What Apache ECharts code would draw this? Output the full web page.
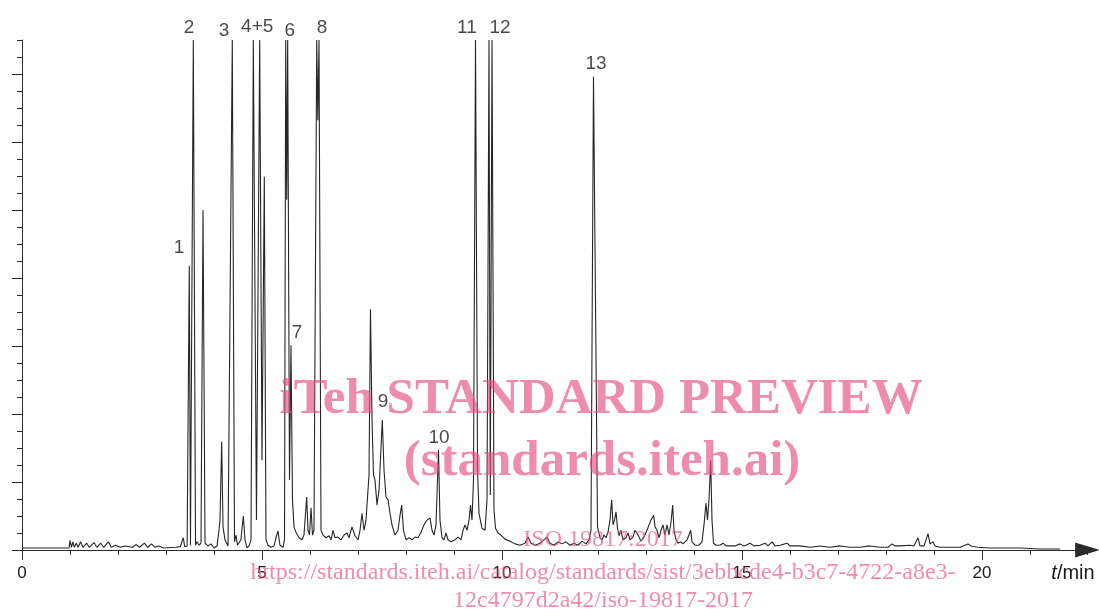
<!DOCTYPE html>
<html>
<head>
<meta charset="utf-8">
<script src="https://cdn.jsdelivr.net/npm/echarts@6/dist/echarts.min.js"></script>
<style>
html,body{margin:0;padding:0;background:#fff;}
#chart{width:1099px;height:613px;}
</style>
</head>
<body>
<div id="chart"></div>
<script>
// Retention time (min) and detector signal (arbitrary units, off-scale peaks clipped at 7.5)
const timeMin = [
0,0.98,1.0,1.03,1.06,1.09,1.13,1.17,1.22,1.27,1.35,1.40,1.50,1.56,1.64,1.70,1.80,1.86,1.95,2.05,
2.15,2.30,2.38,2.45,2.55,2.62,2.70,2.77,2.85,2.95,3.20,3.30,3.36,3.39,3.44,3.485,3.51,3.569,3.615,3.646,
3.688,3.729,3.771,3.813,3.875,3.938,4.0,4.063,4.104,4.125,4.16,4.188,4.229,4.292,4.333,4.381,4.427,4.458,4.49,4.52,
4.56,4.611,4.646,4.688,4.73,4.771,4.819,4.885,4.952,5.0,5.048,5.083,5.125,5.188,5.25,5.292,5.333,5.375,5.438,5.469,
5.494,5.515,5.535,5.573,5.604,5.635,5.667,5.708,5.771,5.833,5.875,5.931,5.958,5.99,6.021,6.052,6.083,6.14,6.163,6.188,
6.229,6.271,6.333,6.396,6.438,6.479,6.521,6.583,6.646,6.708,6.771,6.813,6.875,6.938,7.0,7.042,7.083,7.125,7.167,7.208,
7.229,7.26,7.292,7.323,7.354,7.396,7.438,7.506,7.542,7.583,7.625,7.667,7.708,7.771,7.833,7.875,7.91,7.948,8.0,8.063,
8.125,8.188,8.25,8.313,8.375,8.438,8.5,8.542,8.583,8.625,8.677,8.708,8.75,8.792,8.833,8.875,8.938,9.021,9.083,9.146,
9.188,9.229,9.271,9.313,9.344,9.375,9.406,9.448,9.49,9.521,9.583,9.646,9.688,9.729,9.756,9.792,9.833,9.865,9.917,9.979,
10.063,10.167,10.271,10.375,10.479,10.542,10.604,10.688,10.792,10.875,10.938,11.0,11.083,11.167,11.25,11.333,11.417,11.5,11.583,11.667,
11.75,11.813,11.854,11.906,11.99,12.042,12.083,12.125,12.167,12.208,12.25,12.285,12.313,12.344,12.375,12.406,12.438,12.479,12.521,12.583,
12.625,12.667,12.729,12.771,12.833,12.896,12.958,13.021,13.063,13.104,13.16,13.188,13.229,13.271,13.313,13.354,13.396,13.438,13.479,13.521,
13.556,13.583,13.625,13.667,13.729,13.771,13.854,13.896,13.931,13.958,14.021,14.104,14.167,14.208,14.25,14.281,14.313,14.348,14.375,14.406,
14.458,14.542,14.604,14.667,14.854,14.958,15.042,15.167,15.25,15.375,15.479,15.542,15.625,15.688,15.792,15.938,16.0,16.208,16.417,16.625,
16.833,17.042,17.25,17.458,17.667,17.875,18.042,18.125,18.188,18.292,18.5,18.583,18.625,18.667,18.708,18.792,18.833,18.875,18.917,18.979,
19.021,19.125,19.333,19.542,19.646,19.708,19.771,19.917,20.167,20.375,20.792,21.208,21.625
];
const signal = [
0.03,0.03,0.14,0.04,0.12,0.04,0.10,0.04,0.12,0.04,0.10,0.04,0.11,0.04,0.10,0.04,0.12,0.04,0.07,0.04,
0.06,0.04,0.08,0.04,0.10,0.04,0.09,0.04,0.06,0.03,0.04,0.05,0.18,0.05,0.06,4.18,0.07,7.5,0.07,0.12,
0.07,0.10,5.0,0.10,0.06,0.09,0.03,0.06,0.29,0.44,1.59,0.34,0.15,0.06,0.07,7.5,0.12,0.22,0.07,0.06,
0.15,0.50,0.15,0.03,0.06,0.15,7.5,0.44,7.5,1.32,5.49,0.15,0.07,0.04,0.06,0.18,0.28,0.07,0.04,0.15,
7.5,5.15,7.5,1.03,3.01,0.74,0.34,0.26,0.18,0.15,0.22,0.78,0.29,0.22,0.62,0.22,0.29,7.5,6.32,7.5,
0.29,0.22,0.18,0.21,0.15,0.29,0.18,0.19,0.15,0.22,0.25,0.18,0.34,0.21,0.15,0.29,0.54,0.29,0.44,0.88,
1.09,3.54,1.91,1.10,1.03,0.66,0.88,1.91,1.18,0.78,0.74,0.54,0.37,0.22,0.29,0.51,0.66,0.29,0.15,0.18,
0.15,0.19,0.18,0.26,0.37,0.44,0.47,0.29,0.22,0.37,1.47,0.44,0.18,0.15,0.25,0.15,0.12,0.15,0.19,0.15,
0.29,0.37,0.29,0.44,0.66,0.44,1.03,7.5,1.18,0.54,0.32,0.29,0.74,7.5,0.81,7.5,0.59,0.32,0.25,0.22,
0.16,0.13,0.09,0.07,0.10,0.19,0.10,0.07,0.10,0.15,0.19,0.10,0.07,0.12,0.09,0.12,0.07,0.10,0.07,0.13,
0.09,0.15,0.29,6.96,0.34,0.18,0.15,0.22,0.18,0.26,0.44,0.74,0.37,0.44,0.56,0.32,0.21,0.29,0.15,0.18,
0.25,0.15,0.19,0.29,0.22,0.13,0.19,0.29,0.37,0.44,0.51,0.34,0.29,0.18,0.29,0.37,0.22,0.37,0.22,0.41,
0.66,0.29,0.15,0.10,0.12,0.09,0.15,0.22,0.29,0.12,0.07,0.07,0.12,0.37,0.69,0.44,0.74,1.32,0.44,0.10,
0.07,0.07,0.10,0.06,0.06,0.09,0.06,0.10,0.06,0.07,0.10,0.06,0.12,0.06,0.07,0.10,0.06,0.06,0.04,0.06,
0.04,0.06,0.04,0.04,0.06,0.04,0.04,0.09,0.06,0.06,0.07,0.06,0.12,0.18,0.06,0.06,0.15,0.24,0.09,0.12,
0.06,0.04,0.04,0.04,0.07,0.09,0.06,0.04,0.03,0.03,0.03,0.015,0.015
];

// Peak labels and their positions (time, height)
const peakNames = ['1','2','3','4+5','6','7','8','9','10','11','12','13'];
const peakLabelTime = [3.27,3.48,4.21,4.90,5.58,5.73,6.25,7.52,8.69,9.27,9.96,11.96];
const peakLabelHeight = [4.44,7.68,7.63,7.69,7.63,3.19,7.68,2.18,1.65,7.68,7.68,7.15];

// Axis ticks
const xMajorTicks = [0,5,10,15,20];
const xMinorStep = 1;
const yMajorTicks = [0,1,2,3,4,5,6,7];
const yMinorStep = 0.25;
const xMax = 22.2;
const yMax = 7.5;

const lineData = timeMin.map((t, i) => [t, signal[i]]);
const labelData = peakNames.map((n, i) => ({name: n, value: [peakLabelTime[i], peakLabelHeight[i]]}));

const chart = echarts.init(document.getElementById('chart'), null, {renderer: 'canvas'});
const axisColor = '#2a2a2a';
const wm = 'rgba(228,80,130,0.66)';

chart.setOption({
  animation: false,
  backgroundColor: '#fff',
  grid: {left: 22, top: 40, width: 22.2 * 48, height: 510, containLabel: false},
  xAxis: [{
    type: 'value', min: 0, max: xMax, interval: 5, position: 'bottom', offset: 0,
    axisLine: {show: true, onZero: false, symbol: ['none', 'triangle'], symbolSize: [15, 25],
      lineStyle: {color: axisColor, width: 1}},
    axisTick: {show: true, length: 10, customValues: xMajorTicks, lineStyle: {color: axisColor, width: 1}},
    axisLabel: {show: true, customValues: xMajorTicks, margin: 15, color: '#1a1a1a',
      fontFamily: '"Liberation Sans", Arial, sans-serif', fontSize: 17},
    splitLine: {show: false}
  }, {
    type: 'value', min: 0, max: xMax, interval: xMinorStep, position: 'bottom', offset: 0,
    axisLine: {show: false, onZero: false},
    axisTick: {show: true, length: 5, lineStyle: {color: axisColor, width: 1}},
    axisLabel: {show: false},
    splitLine: {show: false}
  }],
  yAxis: [{
    type: 'value', min: 0, max: yMax, position: 'left', offset: 0,
    axisLine: {show: true, onZero: false, lineStyle: {color: axisColor, width: 1}},
    axisTick: {show: true, length: 10, customValues: yMajorTicks, lineStyle: {color: axisColor, width: 1}},
    axisLabel: {show: false},
    splitLine: {show: false}
  }, {
    type: 'value', min: 0, max: yMax, interval: yMinorStep, position: 'left', offset: 0,
    axisLine: {show: false, onZero: false},
    axisTick: {show: true, length: 5, lineStyle: {color: axisColor, width: 1}},
    axisLabel: {show: false},
    splitLine: {show: false}
  }],
  series: [{
    type: 'line',
    data: lineData,
    xAxisIndex: 0, yAxisIndex: 0,
    showSymbol: false,
    symbol: 'none',
    lineStyle: {color: '#262626', width: 1.1},
    clip: true,
    z: 2
  }, {
    type: 'scatter',
    data: labelData,
    xAxisIndex: 0, yAxisIndex: 0,
    symbolSize: 0,
    clip: false,
    label: {show: true, position: 'inside', formatter: p => p.name, color: '#1a1a1a',
      fontFamily: '"Liberation Sans", Arial, sans-serif', fontSize: 19},
    z: 3
  }],
  graphic: [
    {type: 'text', x: 1073, y: 573, z: 10, style: {
      text: '{i|t}/min', textAlign: 'center', textVerticalAlign: 'middle',
      font: '20px "Liberation Sans", Arial, sans-serif', fill: '#1a1a1a',
      rich: {i: {fontStyle: 'italic', fontSize: 20, fontFamily: '"Liberation Sans", Arial, sans-serif', fill: '#1a1a1a'}}
    }},
    {type: 'text', x: 601, y: 400, z: 100, style: {
      text: 'iTeh STANDARD PREVIEW', textAlign: 'center', textVerticalAlign: 'middle',
      font: 'bold 51px "Liberation Serif", "Times New Roman", serif', fill: wm}},
    {type: 'text', x: 602, y: 462, z: 100, style: {
      text: '(standards.iteh.ai)', textAlign: 'center', textVerticalAlign: 'middle',
      font: 'bold 51px "Liberation Serif", "Times New Roman", serif', fill: wm}},
    {type: 'text', x: 603, y: 540, z: 100, style: {
      text: 'ISO 19817:2017', textAlign: 'center', textVerticalAlign: 'middle',
      font: '24px "Liberation Serif", "Times New Roman", serif', fill: wm}},
    {type: 'text', x: 603, y: 573, z: 100, style: {
      text: 'https://standards.iteh.ai/catalog/standards/sist/3ebbcde4-b3c7-4722-a8e3-', textAlign: 'center', textVerticalAlign: 'middle',
      font: '24px "Liberation Serif", "Times New Roman", serif', fill: wm}},
    {type: 'text', x: 603, y: 601, z: 100, style: {
      text: '12c4797d2a42/iso-19817-2017', textAlign: 'center', textVerticalAlign: 'middle',
      font: '24px "Liberation Serif", "Times New Roman", serif', fill: wm}}
  ]
});
</script>
</body>
</html>
